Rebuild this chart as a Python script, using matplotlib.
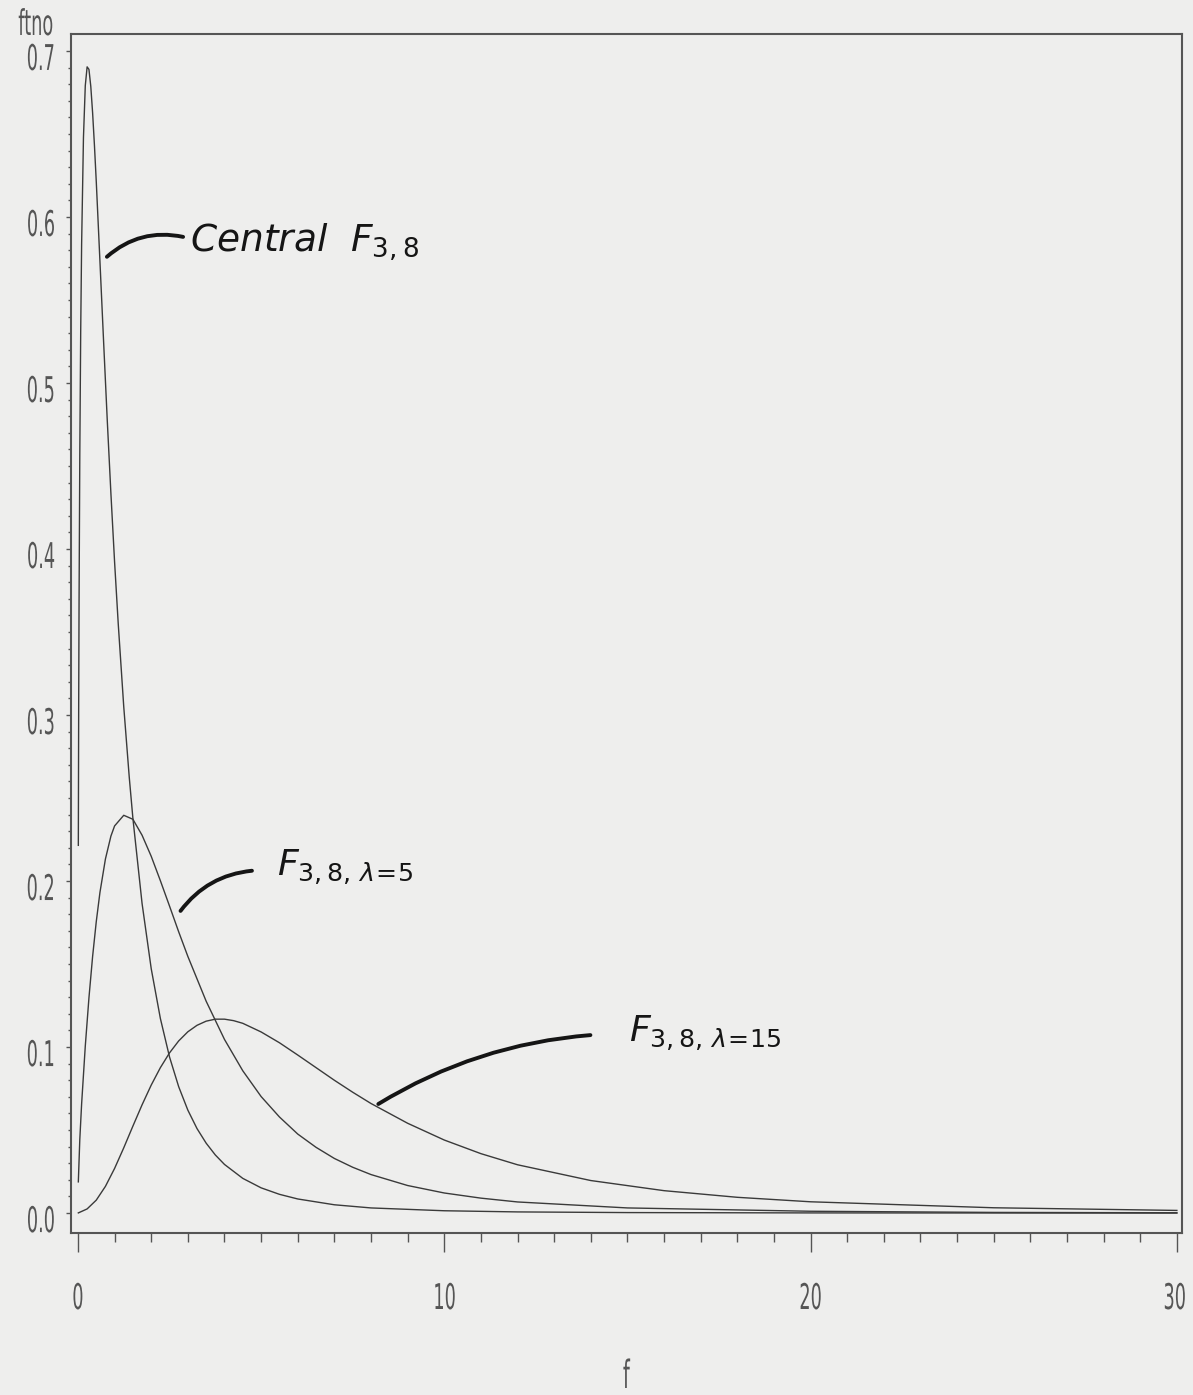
import matplotlib
matplotlib.use("Agg")
import matplotlib.pyplot as plt
from matplotlib.patheffects import AbstractPathEffect
from matplotlib.transforms import Affine2D, ScaledTranslation
from matplotlib.ticker import FixedLocator

# ------------------------------------------------
# densities
# ------------------------------------------------
f_central = [0.01, 0.02, 0.03, 0.05, 0.075, 0.1, 0.15, 0.2, 0.25, 0.3, 0.35, 0.4, 0.45, 0.5,
             0.6, 0.7, 0.8, 0.9, 1.0, 1.1, 1.25, 1.4, 1.5, 1.75, 2.0, 2.25, 2.5, 2.75, 3.0,
             3.25, 3.5, 3.75, 4.0, 4.5, 5.0, 5.5, 6.0, 7.0, 8.0, 10.0, 12.0, 15.0, 20.0, 30.0]
d_central = [0.2215, 0.3067, 0.3681, 0.4563, 0.5315, 0.5837, 0.6478, 0.6791, 0.6904, 0.6889,
             0.6787, 0.6627, 0.6431, 0.6212, 0.5733, 0.5249, 0.4775, 0.4332, 0.3921, 0.3548,
             0.3050, 0.2626, 0.2377, 0.1865, 0.1472, 0.1172, 0.0940, 0.0761, 0.0620, 0.0509,
             0.0421, 0.0350, 0.0293, 0.0209, 0.0152, 0.0113, 0.0085, 0.0050, 0.0031, 0.0014,
             0.0007, 0.0003, 0.0001, 0.0000]

f_nc5 = [0.01, 0.05, 0.1, 0.2, 0.3, 0.4, 0.5, 0.6, 0.75, 0.9, 1.0, 1.25, 1.5, 1.75, 2.0,
         2.25, 2.5, 2.75, 3.0, 3.5, 4.0, 4.5, 5.0, 5.5, 6.0, 6.5, 7.0, 7.5, 8.0, 9.0, 10.0,
         11.0, 12.0, 15.0, 20.0, 25.0, 30.0]
d_nc5 = [0.0188, 0.0442, 0.0658, 0.1006, 0.1297, 0.1546, 0.1756, 0.1931, 0.2133, 0.2271,
         0.2332, 0.2396, 0.2372, 0.2276, 0.2149, 0.2002, 0.1849, 0.1694, 0.1546, 0.1276,
         0.1046, 0.0857, 0.0702, 0.0579, 0.0476, 0.0396, 0.0329, 0.0276, 0.0232, 0.0166,
         0.0121, 0.0090, 0.0067, 0.0031, 0.0011, 0.0004, 0.0002]

f_nc15 = [0.01, 0.25, 0.5, 0.75, 1.0, 1.25, 1.5, 1.75, 2.0, 2.25, 2.5, 2.75, 3.0, 3.25, 3.5,
          3.75, 4.0, 4.25, 4.5, 5.0, 5.5, 6.0, 6.5, 7.0, 7.5, 8.0, 9.0, 10.0, 11.0, 12.0,
          14.0, 16.0, 18.0, 20.0, 25.0, 30.0]
d_nc15 = [0.0001, 0.0025, 0.0078, 0.0161, 0.0269, 0.0393, 0.0524, 0.0652, 0.0771, 0.0876,
          0.0965, 0.1037, 0.1092, 0.1131, 0.1156, 0.1168, 0.1168, 0.1159, 0.1143, 0.1091,
          0.1026, 0.0952, 0.0876, 0.0800, 0.0728, 0.0660, 0.0541, 0.0440, 0.0358, 0.0291,
          0.0196, 0.0135, 0.0095, 0.0068, 0.0032, 0.0016]

x_major = [0, 10, 20, 30]
x_labels = ["0", "10", "20", "30"]
y_major = [0.0, 0.1, 0.2, 0.3, 0.4, 0.5, 0.6, 0.7]
y_labels = ["0.0", "0.1", "0.2", "0.3", "0.4", "0.5", "0.6", "0.7"]

PAPER = "#eeeeed"
INK = "#3a3a3a"
GREY = "#555555"
PEN = "#151515"


class Squeeze(AbstractPathEffect):
    """narrow the glyphs horizontally (SAS simplex look), about centre or right edge"""

    def __init__(self, sx=0.5, anchor="center"):
        super().__init__()
        self.sx = sx
        self.anchor = anchor

    def draw_path(self, renderer, gc, tpath, affine, rgbFace=None):
        ext = tpath.get_extents()
        if self.anchor == "right":
            cx = ext.x1
        else:
            cx = 0.5 * (ext.x0 + ext.x1)
        t = Affine2D().translate(-cx, 0).scale(self.sx, 1).translate(cx, 0) + affine
        renderer.draw_path(gc, tpath, t, rgbFace)


fig = plt.figure(figsize=(11.93, 13.95), dpi=100, facecolor=PAPER)
ax = fig.add_axes([71 / 1193, 162 / 1395, 1111 / 1193, 1199 / 1395], facecolor=PAPER)

ax.plot(f_central, d_central, color=INK, lw=1.0)
ax.plot(f_nc5, d_nc5, color=INK, lw=1.0)
ax.plot(f_nc15, d_nc15, color=INK, lw=1.0)

ax.set_xlim(-0.19, 30.14)
ax.set_ylim(-0.0120, 0.7102)

for s in ax.spines.values():
    s.set_color(GREY)
    s.set_linewidth(1.5)

ax.set_xticks(x_major)
ax.set_xticklabels([])
ax.xaxis.set_minor_locator(FixedLocator(list(range(1, 30))))
ax.set_yticks(y_major)
ax.set_yticklabels([])
ax.yaxis.set_minor_locator(FixedLocator([i / 100 for i in range(71)]))

ax.tick_params(axis="x", which="major", direction="out", length=13.5, width=1.0, color=GREY)
ax.tick_params(axis="x", which="minor", direction="out", length=6.5, width=1.0, color=GREY)
ax.tick_params(axis="y", which="major", direction="out", length=3.8, width=1.0, color=GREY)
ax.tick_params(axis="y", which="minor", direction="out", length=2.2, width=1.0, color=GREY)

tick_font = dict(fontsize=25.5, color=GREY, family="DejaVu Sans")
sq = [Squeeze(0.5)]

# tick labels (drawn by hand so the narrow glyphs sit where SAS put them)
x_off = ax.get_xaxis_transform() + ScaledTranslation(0, -0.76, fig.dpi_scale_trans)
for v, lab in zip(x_major, x_labels):
    if v == x_major[-1]:
        # last one hugs the right edge of the page
        ax.text(v, 0, lab, transform=x_off + ScaledTranslation(0.105, 0, fig.dpi_scale_trans),
                ha="right", va="baseline", path_effects=[Squeeze(0.5, "right")], **tick_font)
    else:
        ax.text(v, 0, lab, transform=x_off, ha="center", va="baseline",
                path_effects=sq, **tick_font)

y_off = ax.get_yaxis_transform() + ScaledTranslation(-0.30, -0.19, fig.dpi_scale_trans)
for v, lab in zip(y_major, y_labels):
    ax.text(0, v, lab, transform=y_off, ha="center", va="baseline",
            path_effects=sq, **tick_font)

# axis labels
fig.text(36 / 1193, 1 - 35 / 1395, "ftno", ha="center", va="baseline",
         path_effects=sq, **tick_font)
fig.text(626 / 1193, 1 - 1388 / 1395, "f", ha="center", va="baseline",
         path_effects=sq, fontsize=28, color=GREY, family="DejaVu Sans")

# handwritten notes
pen = dict(arrowstyle="-", lw=2.8, color=PEN, shrinkA=0, shrinkB=0)
ax.annotate("", xy=(2.87, 0.588), xytext=(0.79, 0.576),
            arrowprops=dict(connectionstyle="arc3,rad=-0.25", **pen))
ax.annotate("", xy=(4.75, 0.2062), xytext=(2.80, 0.1820),
            arrowprops=dict(connectionstyle="arc3,rad=-0.22", **pen))
ax.annotate("", xy=(13.99, 0.1072), xytext=(8.20, 0.0657),
            arrowprops=dict(connectionstyle="arc3,rad=-0.12", **pen))

note = dict(fontsize=27, color=PEN, style="italic", ha="left", va="baseline")
ax.text(3.06, 0.579, r"Central  $F_{3,8}$", **note)
note["fontsize"] = 26
ax.text(5.44, 0.203, r"$F_{3,8,\,\lambda\!=\!5}$", **note)
ax.text(15.03, 0.103, r"$F_{3,8,\,\lambda\!=\!15}$", **note)

plt.savefig("out.png", dpi=100, facecolor=PAPER)
